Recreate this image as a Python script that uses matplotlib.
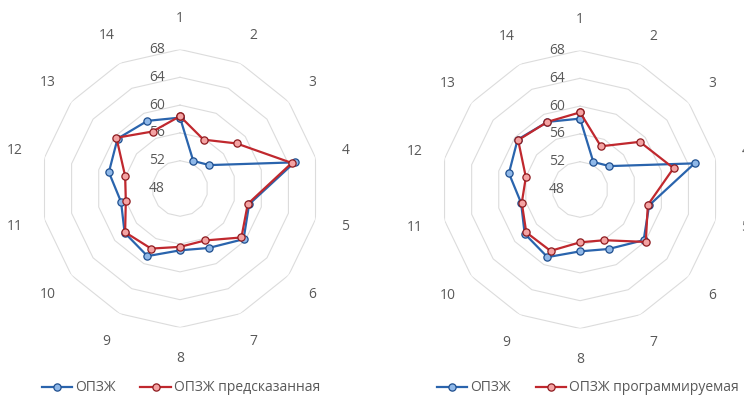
import numpy as np
import matplotlib
matplotlib.use("Agg")
import matplotlib.pyplot as plt
from matplotlib.transforms import offset_copy

plt.rcParams['font.family'] = ['Open Sans', 'DejaVu Sans']

# Data
categories = [str(i) for i in range(1, 15)]
opzh = [58.2, 52.4, 53.4, 64.9, 58.2, 59.7, 57.5, 56.9, 58.8, 58.2, 56.7, 58.5, 59.5, 58.8]
opzh_predicted = [58.4, 55.8, 58.4, 64.5, 58.0, 59.3, 56.3, 56.4, 57.6, 58.1, 56.0, 56.1, 59.7, 57.1]
opzh_programmed = [59.1, 54.9, 59.0, 61.8, 58.0, 60.1, 56.1, 55.6, 57.8, 57.9, 56.6, 56.0, 59.4, 58.8]
ring_values = [48, 52, 56, 60, 64, 68]

r_min, r_max = 48, 68
text_color = '#595959'
grid_color = '#dcdcdc'
blue = dict(color='#2a64ad', mfc='#8fb8e8', mec='#1f4f8f')
red = dict(color='#c0282e', mfc='#f4a3a3', mec='#8e1b1f')

n = len(categories)
angles = np.arange(n) * 2 * np.pi / n
closed = np.append(angles, angles[0])


def radar(ax, series, labels, styles):
    ax.set_theta_zero_location('N')
    ax.set_theta_direction(-1)
    ax.set_ylim(r_min, r_max)
    ax.set_frame_on(False)
    ax.grid(False)
    ax.set_xticks([])
    ax.set_yticks([])

    # polygon rings
    for rv in ring_values[1:]:
        ax.plot(closed, [rv] * (n + 1), color=grid_color, lw=0.8, zorder=1)

    # ring values left of the top axis
    shifted = offset_copy(ax.transData, fig=ax.figure, x=-23, y=0, units='dots')
    for rv in ring_values:
        ax.text(0, rv, str(rv), transform=shifted, ha='center', va='center',
                fontsize=10, color=text_color)

    # category labels outside the outer ring
    for a, c in zip(angles, categories):
        ax.text(a, 72.4, c, ha='center', va='center', fontsize=10,
                color=text_color, clip_on=False)

    handles = []
    for values, label, st in zip(series, labels, styles):
        vals = np.append(values, values[0])
        h, = ax.plot(closed, vals, marker='o', ms=5.2, mew=0.9, lw=1.6,
                     label=label, zorder=3, **st)
        handles.append(h)
    return handles


fig = plt.figure(figsize=(7.44, 4.05), dpi=100)
ax1 = fig.add_axes([0.0551, 0.1914, 0.3737, 0.6864], projection='polar')
ax2 = fig.add_axes([0.5928, 0.1889, 0.3737, 0.6864], projection='polar')

h1 = radar(ax1, [opzh, opzh_predicted], ['ОПЗЖ', 'ОПЗЖ предсказанная'], [blue, red])
h2 = radar(ax2, [opzh, opzh_programmed], ['ОПЗЖ', 'ОПЗЖ программируемая'], [blue, red])

for handles, xc in [(h1, 0.243), (h2, 0.790)]:
    leg = fig.legend(handles=handles, loc='center', bbox_to_anchor=(xc, 0.042),
                     ncol=2, frameon=False, fontsize=10, handlelength=2.2,
                     handletextpad=0.2, columnspacing=1.8)
    for t in leg.get_texts():
        t.set_color(text_color)

fig.savefig('out.png', dpi=100)
